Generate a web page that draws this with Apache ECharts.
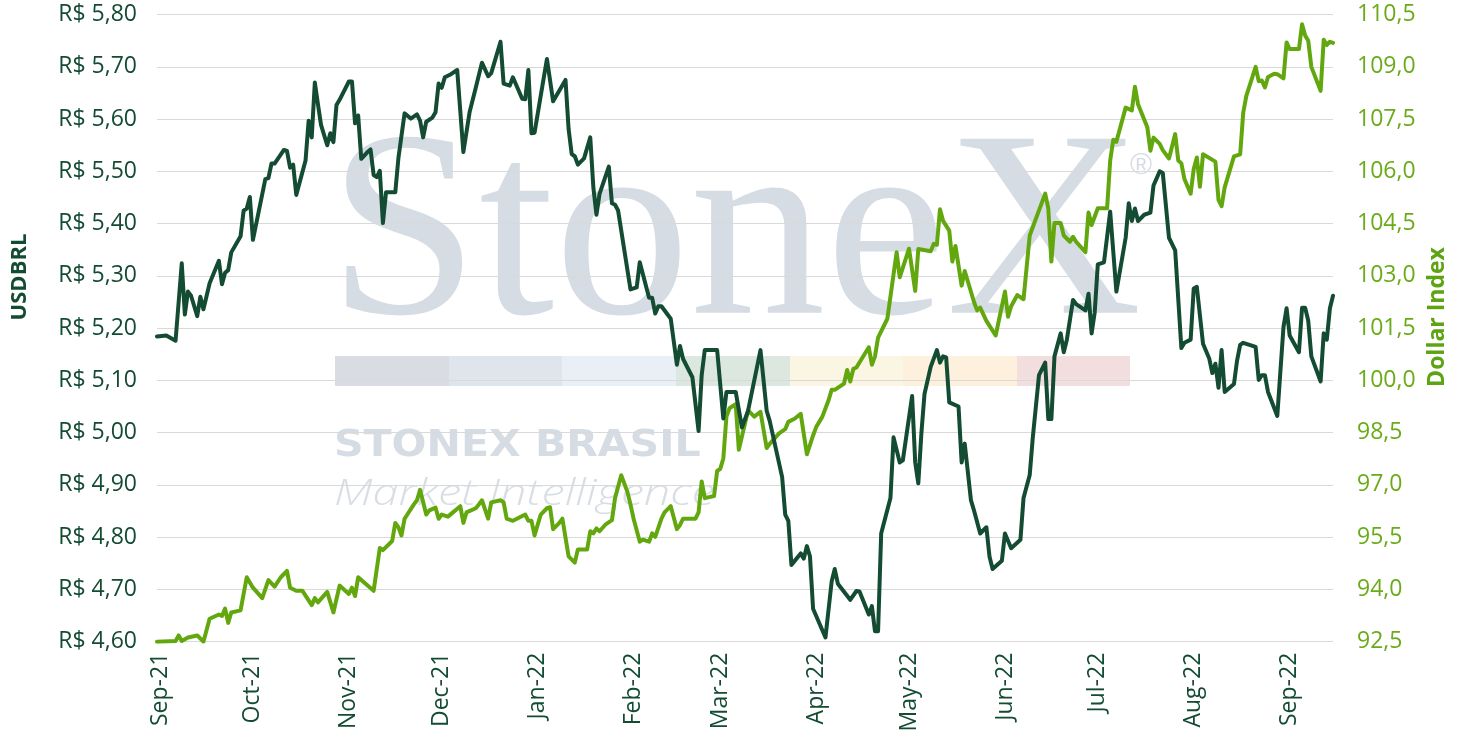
<!DOCTYPE html>
<html>
<head>
<meta charset="utf-8">
<script src="https://cdn.jsdelivr.net/npm/echarts@6/dist/echarts.min.js"></script>
<style>
html,body{margin:0;padding:0;background:#fff;}
#chart{width:1461px;height:740px;}
</style>
</head>
<body>
<div id="chart"></div>
<script>
// ---------- DATA ----------
var usdDates = ['2021-08-31','2021-09-03','2021-09-06','2021-09-08','2021-09-09','2021-09-10','2021-09-11','2021-09-13','2021-09-14','2021-09-15','2021-09-17','2021-09-20','2021-09-21','2021-09-22','2021-09-23','2021-09-24','2021-09-27','2021-09-28','2021-09-29','2021-09-30','2021-10-01','2021-10-05','2021-10-06','2021-10-07','2021-10-08','2021-10-11','2021-10-12','2021-10-13','2021-10-14','2021-10-15','2021-10-18','2021-10-19','2021-10-20','2021-10-21','2021-10-22','2021-10-23','2021-10-25','2021-10-26','2021-10-27','2021-10-28','2021-10-29','2021-11-01','2021-11-02','2021-11-03','2021-11-04','2021-11-05','2021-11-07','2021-11-08','2021-11-09','2021-11-10','2021-11-11','2021-11-12','2021-11-13','2021-11-16','2021-11-17','2021-11-19','2021-11-21','2021-11-23','2021-11-24','2021-11-25','2021-11-26','2021-11-28','2021-11-29','2021-11-30','2021-12-01','2021-12-02','2021-12-04','2021-12-06','2021-12-08','2021-12-10','2021-12-12','2021-12-14','2021-12-16','2021-12-17','2021-12-20','2021-12-21','2021-12-23','2021-12-24','2021-12-27','2021-12-28','2021-12-29','2021-12-30','2021-12-31','2022-01-02','2022-01-04','2022-01-06','2022-01-10','2022-01-11','2022-01-12','2022-01-13','2022-01-14','2022-01-16','2022-01-18','2022-01-19','2022-01-20','2022-01-21','2022-01-24','2022-01-25','2022-01-26','2022-01-27','2022-01-31','2022-02-02','2022-02-03','2022-02-06','2022-02-07','2022-02-08','2022-02-09','2022-02-10','2022-02-13','2022-02-15','2022-02-16','2022-02-17','2022-02-20','2022-02-22','2022-02-23','2022-02-24','2022-02-28','2022-03-02','2022-03-03','2022-03-06','2022-03-08','2022-03-10','2022-03-14','2022-03-16','2022-03-17','2022-03-21','2022-03-22','2022-03-23','2022-03-24','2022-03-27','2022-03-28','2022-03-29','2022-03-30','2022-03-31','2022-04-04','2022-04-06','2022-04-07','2022-04-08','2022-04-11','2022-04-12','2022-04-14','2022-04-15','2022-04-18','2022-04-19','2022-04-20','2022-04-21','2022-04-22','2022-04-25','2022-04-26','2022-04-28','2022-04-29','2022-05-02','2022-05-03','2022-05-04','2022-05-05','2022-05-06','2022-05-08','2022-05-10','2022-05-11','2022-05-12','2022-05-13','2022-05-14','2022-05-17','2022-05-18','2022-05-19','2022-05-21','2022-05-22','2022-05-24','2022-05-26','2022-05-27','2022-05-28','2022-05-31','2022-06-01','2022-06-03','2022-06-06','2022-06-07','2022-06-09','2022-06-10','2022-06-12','2022-06-14','2022-06-15','2022-06-16','2022-06-17','2022-06-19','2022-06-20','2022-06-21','2022-06-23','2022-06-24','2022-06-27','2022-06-28','2022-06-29','2022-06-30','2022-07-01','2022-07-03','2022-07-05','2022-07-07','2022-07-10','2022-07-11','2022-07-12','2022-07-13','2022-07-14','2022-07-16','2022-07-18','2022-07-19','2022-07-21','2022-07-22','2022-07-24','2022-07-26','2022-07-28','2022-07-29','2022-07-31','2022-08-01','2022-08-02','2022-08-04','2022-08-06','2022-08-07','2022-08-08','2022-08-09','2022-08-10','2022-08-11','2022-08-14','2022-08-15','2022-08-16','2022-08-17','2022-08-21','2022-08-22','2022-08-23','2022-08-24','2022-08-25','2022-08-28','2022-08-30','2022-08-31','2022-09-01','2022-09-04','2022-09-05','2022-09-06','2022-09-07','2022-09-08','2022-09-11','2022-09-12','2022-09-13','2022-09-14','2022-09-15'];
var usdValues = [5.184,5.186,5.176,5.324,5.226,5.270,5.262,5.223,5.260,5.236,5.286,5.329,5.284,5.306,5.311,5.345,5.376,5.425,5.429,5.451,5.369,5.485,5.487,5.515,5.515,5.541,5.539,5.507,5.513,5.455,5.521,5.597,5.565,5.670,5.629,5.589,5.550,5.573,5.556,5.627,5.637,5.672,5.672,5.592,5.607,5.524,5.537,5.542,5.493,5.489,5.501,5.401,5.460,5.460,5.525,5.611,5.601,5.609,5.597,5.565,5.595,5.603,5.613,5.668,5.660,5.680,5.686,5.694,5.537,5.613,5.660,5.708,5.682,5.688,5.748,5.668,5.664,5.680,5.639,5.638,5.694,5.573,5.574,5.645,5.715,5.634,5.675,5.581,5.533,5.529,5.513,5.525,5.565,5.469,5.417,5.457,5.509,5.439,5.436,5.425,5.274,5.278,5.326,5.258,5.258,5.228,5.242,5.242,5.218,5.130,5.166,5.141,5.106,5.003,5.110,5.158,5.158,5.027,5.078,5.078,5.010,5.042,5.158,5.042,5.022,4.915,4.843,4.831,4.747,4.769,4.759,4.783,4.763,4.663,4.608,4.715,4.739,4.711,4.688,4.680,4.697,4.696,4.652,4.668,4.620,4.620,4.807,4.875,4.991,4.943,4.947,5.070,4.943,4.903,4.999,5.074,5.126,5.158,5.134,5.146,5.144,5.058,5.050,4.943,4.979,4.871,4.851,4.807,4.819,4.763,4.739,4.755,4.807,4.779,4.795,4.875,4.919,4.991,5.110,5.134,5.026,5.026,5.146,5.190,5.154,5.178,5.254,5.246,5.234,5.266,5.190,5.230,5.322,5.326,5.423,5.270,5.373,5.439,5.405,5.429,5.405,5.417,5.421,5.473,5.500,5.497,5.373,5.349,5.162,5.172,5.178,5.276,5.279,5.170,5.142,5.114,5.132,5.086,5.158,5.078,5.093,5.138,5.168,5.172,5.164,5.101,5.110,5.110,5.078,5.032,5.202,5.238,5.186,5.154,5.239,5.239,5.214,5.146,5.098,5.190,5.178,5.238,5.262];

var dxyDates = ['2021-08-31','2021-09-06','2021-09-07','2021-09-08','2021-09-10','2021-09-13','2021-09-15','2021-09-17','2021-09-20','2021-09-21','2021-09-22','2021-09-23','2021-09-24','2021-09-27','2021-09-29','2021-10-01','2021-10-04','2021-10-06','2021-10-08','2021-10-10','2021-10-12','2021-10-13','2021-10-15','2021-10-17','2021-10-20','2021-10-21','2021-10-22','2021-10-25','2021-10-27','2021-10-29','2021-11-01','2021-11-02','2021-11-03','2021-11-04','2021-11-09','2021-11-11','2021-11-12','2021-11-15','2021-11-16','2021-11-17','2021-11-18','2021-11-19','2021-11-22','2021-11-23','2021-11-24','2021-11-26','2021-11-27','2021-11-29','2021-11-30','2021-12-01','2021-12-03','2021-12-07','2021-12-08','2021-12-09','2021-12-12','2021-12-13','2021-12-14','2021-12-16','2021-12-17','2021-12-20','2021-12-21','2021-12-22','2021-12-24','2021-12-28','2021-12-29','2021-12-30','2021-12-31','2022-01-02','2022-01-04','2022-01-05','2022-01-06','2022-01-08','2022-01-09','2022-01-11','2022-01-13','2022-01-14','2022-01-17','2022-01-18','2022-01-19','2022-01-20','2022-01-21','2022-01-23','2022-01-25','2022-01-26','2022-01-28','2022-01-30','2022-01-31','2022-02-01','2022-02-03','2022-02-04','2022-02-06','2022-02-07','2022-02-08','2022-02-10','2022-02-11','2022-02-13','2022-02-15','2022-02-16','2022-02-17','2022-02-21','2022-02-22','2022-02-23','2022-02-24','2022-02-27','2022-02-28','2022-03-01','2022-03-02','2022-03-03','2022-03-04','2022-03-06','2022-03-07','2022-03-10','2022-03-12','2022-03-14','2022-03-16','2022-03-17','2022-03-20','2022-03-22','2022-03-23','2022-03-25','2022-03-27','2022-03-29','2022-03-31','2022-04-01','2022-04-03','2022-04-05','2022-04-06','2022-04-07','2022-04-10','2022-04-11','2022-04-12','2022-04-13','2022-04-14','2022-04-18','2022-04-19','2022-04-20','2022-04-21','2022-04-24','2022-04-27','2022-04-28','2022-05-01','2022-05-03','2022-05-04','2022-05-08','2022-05-09','2022-05-10','2022-05-11','2022-05-12','2022-05-14','2022-05-15','2022-05-16','2022-05-18','2022-05-19','2022-05-22','2022-05-23','2022-05-24','2022-05-26','2022-05-29','2022-06-01','2022-06-02','2022-06-03','2022-06-05','2022-06-07','2022-06-09','2022-06-14','2022-06-15','2022-06-16','2022-06-17','2022-06-19','2022-06-20','2022-06-22','2022-06-23','2022-06-24','2022-06-27','2022-06-28','2022-06-29','2022-07-01','2022-07-04','2022-07-05','2022-07-06','2022-07-07','2022-07-10','2022-07-12','2022-07-13','2022-07-14','2022-07-17','2022-07-18','2022-07-19','2022-07-21','2022-07-22','2022-07-24','2022-07-26','2022-07-27','2022-07-28','2022-07-29','2022-07-31','2022-08-01','2022-08-02','2022-08-03','2022-08-04','2022-08-08','2022-08-09','2022-08-10','2022-08-11','2022-08-14','2022-08-16','2022-08-17','2022-08-18','2022-08-21','2022-08-22','2022-08-23','2022-08-24','2022-08-25','2022-08-27','2022-08-28','2022-08-30','2022-08-31','2022-09-01','2022-09-04','2022-09-05','2022-09-06','2022-09-07','2022-09-08','2022-09-11','2022-09-12','2022-09-13','2022-09-14','2022-09-15'];
var dxyValues = [92.50,92.52,92.68,92.52,92.62,92.68,92.50,93.16,93.28,93.24,93.45,93.04,93.34,93.40,94.35,94.05,93.75,94.27,94.08,94.35,94.53,94.05,93.96,93.96,93.55,93.75,93.63,93.93,93.34,94.11,93.87,94.05,93.81,94.35,93.96,95.19,95.13,95.39,95.91,95.79,95.55,96.03,96.44,96.56,96.86,96.15,96.27,96.35,96.03,96.15,96.09,96.39,95.91,96.21,96.33,96.44,96.56,96.03,96.50,96.56,96.50,96.03,95.97,96.15,95.97,95.97,95.55,96.15,96.33,96.36,95.73,95.91,96.03,94.95,94.77,95.15,95.15,95.67,95.61,95.75,95.67,95.87,95.99,96.62,97.28,96.80,96.44,96.03,95.37,95.43,95.37,95.61,95.51,96.03,96.21,96.39,95.73,95.85,96.03,96.03,96.21,97.10,96.62,96.68,97.40,97.46,97.76,98.96,99.20,99.32,98.01,99.14,98.96,99.10,98.06,98.18,98.48,98.60,98.81,98.90,99.04,97.88,98.42,98.66,98.96,99.43,99.73,99.73,99.91,100.30,99.97,100.33,100.37,100.95,100.45,100.69,101.23,101.77,103.68,102.96,103.78,102.57,103.77,103.71,103.92,103.89,104.91,104.58,104.30,103.41,103.86,102.72,103.14,102.25,102.01,102.09,101.71,101.29,102.55,101.83,102.13,102.45,102.33,104.16,105.36,104.94,103.41,104.52,104.52,104.16,103.98,104.12,103.98,103.68,104.82,104.46,104.94,104.94,106.31,106.91,106.85,107.83,107.75,108.43,107.93,107.27,106.59,106.97,106.79,106.61,106.37,107.07,106.31,106.23,105.78,105.36,106.07,106.40,105.56,106.49,106.28,105.18,105.00,105.54,106.43,106.49,107.69,108.17,109.00,108.59,108.61,108.41,108.71,108.80,108.79,108.67,109.70,109.51,109.51,110.22,109.90,109.75,109.00,108.31,109.78,109.63,109.72,109.69];

var monthNames = ['Jan','Feb','Mar','Apr','May','Jun','Jul','Aug','Sep','Oct','Nov','Dec'];
var leftAxisName = 'USDBRL';
var rightAxisName = 'Dollar Index';

// ---------- BUILD ----------
function zip(d, v) { return d.map(function (x, i) { return [x, v[i]]; }); }

var darkGreen = '#134b33';
var lightGreen = '#63a70f';
var wm = '#d6dce4';

var chart = echarts.init(document.getElementById('chart'), null, { renderer: 'canvas' });
chart.setOption({
  backgroundColor: '#ffffff',
  animation: false,
  grid: { left: 157, right: 128, top: 14.6, bottom: 98.3 },
  xAxis: {
    type: 'time',
    min: '2021-08-31',
    max: '2022-09-15',
    splitNumber: 13,
    maxInterval: 31 * 86400000,
    axisLine: { show: false },
    axisTick: { show: false },
    splitLine: { show: false },
    axisLabel: {
      rotate: 90,
      margin: 11,
      showMinLabel: false,
      showMaxLabel: false,
      color: darkGreen,
      fontFamily: 'Open Sans',
      fontSize: 23,
      formatter: function (val) {
        var d = new Date(val);
        return monthNames[d.getMonth()] + '-' + String(d.getFullYear()).slice(2);
      }
    }
  },
  yAxis: [
    {
      type: 'value',
      min: 4.6, max: 5.8, interval: 0.1,
      axisLine: { show: false },
      axisTick: { show: false },
      splitLine: { show: true, lineStyle: { color: '#d9d9d9', width: 1 } },
      axisLabel: {
        margin: 20,
        color: darkGreen,
        fontFamily: 'Open Sans',
        fontSize: 23,
        formatter: function (v) { return 'R$ ' + v.toFixed(2).replace('.', ','); }
      }
    },
    {
      type: 'value',
      min: 92.5, max: 110.5, interval: 1.5,
      axisLine: { show: false },
      axisTick: { show: false },
      splitLine: { show: false },
      axisLabel: {
        margin: 24,
        color: '#6aab1a',
        fontFamily: 'Open Sans',
        fontSize: 23,
        formatter: function (v) { return v.toFixed(1).replace('.', ','); }
      }
    }
  ],
  graphic: [
    { type: 'text', z: -5, x: 328, y: 243, scaleX: 1.02, style: { text: 'StoneX', font: '266px "Liberation Serif"', fill: wm, verticalAlign: 'middle', align: 'left' } },
    { type: 'text', z: -5, x: 1130, y: 166, style: { text: '®', font: '30px "Liberation Sans"', fill: wm, verticalAlign: 'middle', align: 'left' } },
    { type: 'rect', z: -5, shape: { x: 335, y: 356, width: 114, height: 30 }, style: { fill: '#d9dde3' } },
    { type: 'rect', z: -5, shape: { x: 449, y: 356, width: 113, height: 30 }, style: { fill: '#dfe5ec' } },
    { type: 'rect', z: -5, shape: { x: 562, y: 356, width: 114, height: 30 }, style: { fill: '#e9eff7' } },
    { type: 'rect', z: -5, shape: { x: 676, y: 356, width: 114, height: 30 }, style: { fill: '#dce7e0' } },
    { type: 'rect', z: -5, shape: { x: 790, y: 356, width: 113, height: 30 }, style: { fill: '#fbf6e3' } },
    { type: 'rect', z: -5, shape: { x: 903, y: 356, width: 114, height: 30 }, style: { fill: '#fdf0dc' } },
    { type: 'rect', z: -5, shape: { x: 1017, y: 356, width: 113, height: 30 }, style: { fill: '#f2dedf' } },
    { type: 'text', z: -5, x: 334, y: 446, scaleX: 1.11, style: { text: 'STONEX BRASIL', font: 'bold 37px "DejaVu Sans"', fill: wm, verticalAlign: 'middle', align: 'left' } },
    { type: 'text', z: -5, x: 334, y: 494, scaleX: 1.27, style: { text: 'Market Intelligence', font: 'italic 300 37px "Open Sans"', fill: '#d9dee5', verticalAlign: 'middle', align: 'left' } },
    { type: 'text', x: 20, y: 277, rotation: Math.PI / 2, style: { text: leftAxisName, font: 'bold 22px "Open Sans"', fill: darkGreen, align: 'center', verticalAlign: 'middle' } },
    { type: 'text', x: 1437, y: 317, rotation: Math.PI / 2, style: { text: rightAxisName, font: 'bold 23px "Open Sans"', fill: '#5ea312', align: 'center', verticalAlign: 'middle' } }
  ],
  series: [
    {
      name: 'Dollar Index', type: 'line', yAxisIndex: 1,
      data: zip(dxyDates, dxyValues),
      showSymbol: false, symbol: 'none',
      lineStyle: { color: lightGreen, width: 4, join: 'round', cap: 'round' },
      itemStyle: { color: lightGreen },
      z: 3
    },
    {
      name: 'USDBRL', type: 'line', yAxisIndex: 0,
      data: zip(usdDates, usdValues),
      showSymbol: false, symbol: 'none',
      lineStyle: { color: darkGreen, width: 4, join: 'round', cap: 'round' },
      itemStyle: { color: darkGreen },
      z: 4
    }
  ]
});
</script>
</body>
</html>
